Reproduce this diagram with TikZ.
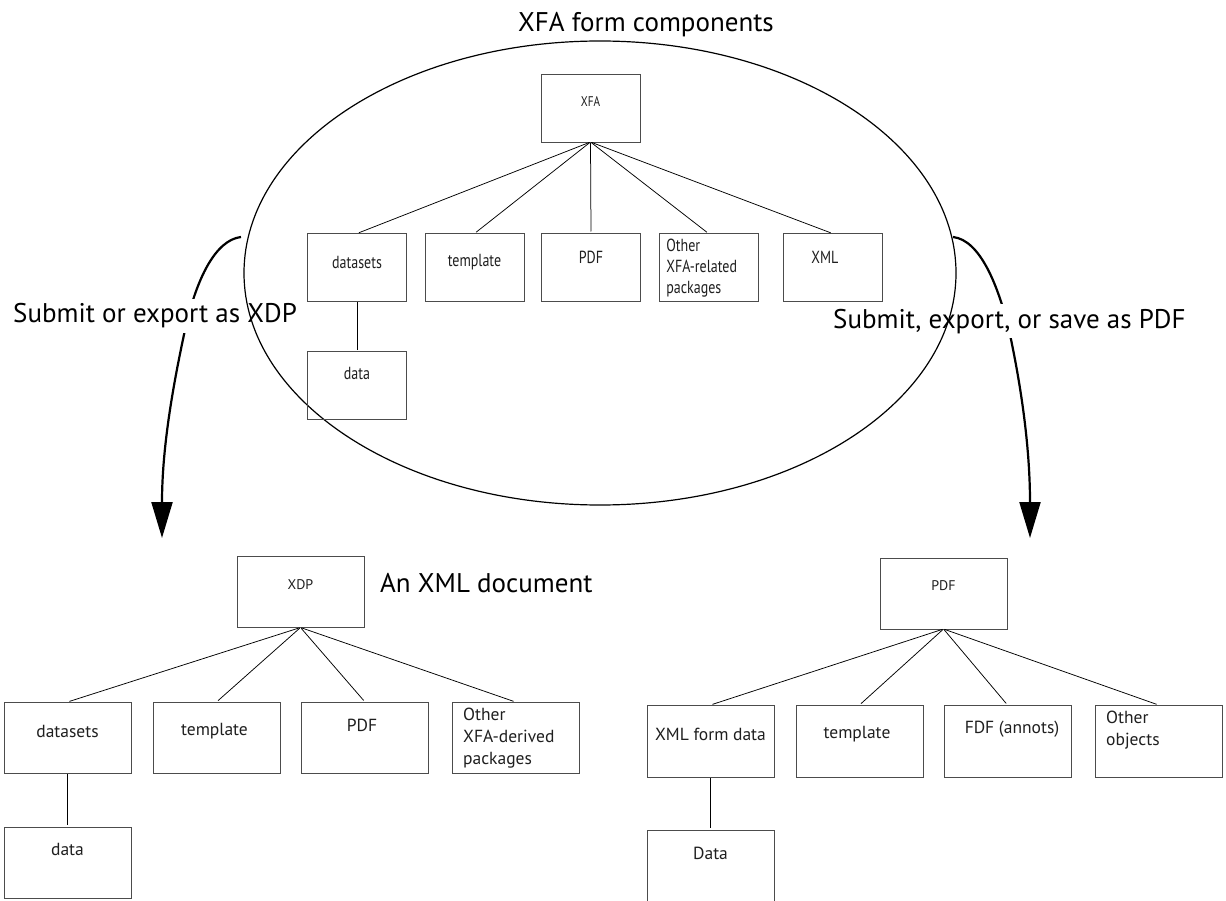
\documentclass[tikz,border=0pt]{standalone}
\usepackage{fontspec}
\usepackage{graphicx}
\setmainfont{PT Sans}
\usetikzlibrary{arrows.meta,calc,shapes.geometric}
\begin{document}
\begin{tikzpicture}[x=1pt,y=-1pt,
  box/.style={draw=black!70, line width=0.9pt, minimum width=127pt, minimum height=71pt, inner sep=0pt, outer sep=0pt},
  tbox/.style={box, minimum width=99pt, minimum height=68pt},
  btxt/.style={font=\fontsize{17.5}{22}\selectfont, text=black!88, inner sep=0pt},
  ttxt/.style={btxt, font=\fontsize{17.5}{21}\selectfont, xscale=0.8, transform shape},
  small/.style={font=\fontsize{14}{16}\selectfont},
  big/.style={font=\fontsize{27}{32}\selectfont, inner sep=0pt},
  edge/.style={line width=0.75pt, shorten >=2pt, shorten <=1pt},
  flow/.style={line width=2.2pt, -{Triangle[length=36pt,width=21pt]}},
]
\clip (0,0) rectangle (1226,901);
\fill[white] (0,0) rectangle (1226,901);

% flow arrows
\coordinate (ls) at (241,237);
\coordinate (lt) at (162,538);
\coordinate (rs) at (953,237);
\coordinate (rt) at (1030,538);
\draw[flow] (ls) .. controls (215,240) and (196,280) .. (185,330)
  .. controls (172,390) and (162,450) .. (lt);
\draw[flow] (rs) .. controls (980,240) and (998,285) .. (1009,330)
  .. controls (1022,390) and (1030,450) .. (rt);

% labels
\node[big, anchor=base west, fill=white, inner ysep=5pt] (lblL) at (13,323) {Submit or export as XDP};
\node[big, anchor=base west, fill=white, inner ysep=5pt] (lblR) at (833,328) {Submit, export, or save as PDF};
\node[big, anchor=base] (title) at (646,32) {XFA form components};
\node[big, anchor=base west] (xmldoc) at (380,592) {An XML document};

% ellipse
\node[draw, line width=1.2pt, ellipse, minimum width=712pt, minimum height=464pt, inner sep=0pt] (ell) at (600,273) {};

% top tree
\node[tbox, label={[ttxt,small,yshift=6pt]center:XFA}] (xfa) at (590.5,108) {};
\node[tbox, label={[ttxt,yshift=5.5pt]center:datasets}] (tds) at (357,267.5) {};
\node[tbox, label={[ttxt,yshift=5.5pt]center:template}] (ttpl) at (474.5,267.5) {};
\node[tbox, label={[ttxt,yshift=10.5pt]center:PDF}] (tpdf) at (591,267.5) {};
\node[tbox, label={[ttxt,align=left,anchor=west,xshift=9pt,yshift=-1pt]west:{Other\\XFA-related\\packages}}] (toth) at (708.5,267.5) {};
\node[tbox, label={[ttxt,xshift=-9.5pt,yshift=10.5pt]center:XML}] (txml) at (832.5,267.5) {};
\node[tbox, label={[ttxt,yshift=12.5pt]center:data}] (tdata) at (357,385.5) {};
\foreach \c in {tds,ttpl,tpdf,toth,txml} \draw[edge] (xfa.south) -- (\c.north);
\draw[edge] (tds.south) -- (tdata.north);

% bottom-left tree
\node[box, label={[btxt,small,yshift=7pt]center:XDP}] (xdp) at (300.5,592) {};
\node[box, label={[btxt,yshift=6.5pt]center:datasets}] (bds) at (67.5,737.5) {};
\node[box, label={[btxt,xshift=-2pt,yshift=6.5pt]center:template}] (btpl) at (216.5,737.5) {};
\node[box, label={[btxt,xshift=-3pt,yshift=12.5pt]center:PDF}] (bpdf) at (365,737.5) {};
\node[box, label={[btxt,align=left,anchor=west,xshift=11pt,yshift=-1pt]west:{Other\\XFA-derived\\packages}}] (both) at (515.5,737.5) {};
\node[box, label={[btxt,yshift=13.5pt]center:data}] (bdata) at (67.5,862.5) {};
\foreach \c in {bds,btpl,bpdf,both} \draw[edge] (xdp.south) -- (\c.north);
\draw[edge] (bds.south) -- (bdata.north);

% bottom-right tree
\node[box, label={[btxt,small,yshift=7.5pt]center:PDF}] (rpdf) at (943.5,593.5) {};
\node[box, minimum height=72pt, label={[btxt,yshift=7pt]center:XML form data}] (rxml) at (710.5,741) {};
\node[box, minimum height=72pt, label={[btxt,xshift=-2.5pt,yshift=7pt]center:template}] (rtpl) at (859.5,741) {};
\node[box, minimum height=72pt, label={[btxt,xshift=4.5pt,yshift=12pt]center:FDF (annots)}] (rfdf) at (1007.5,741) {};
\node[box, minimum height=72pt, label={[btxt,align=left,anchor=west,xshift=11pt,yshift=10.5pt]west:{Other\\objects}}] (roth) at (1158.5,741) {};
\node[box, minimum height=72pt, label={[btxt,yshift=13pt]center:Data}] (rdata) at (710.5,866) {};
\foreach \c in {rxml,rtpl,rfdf,roth} \draw[edge] (rpdf.south) -- (\c.north);
\draw[edge] (rxml.south) -- (rdata.north);
\end{tikzpicture}
\end{document}
